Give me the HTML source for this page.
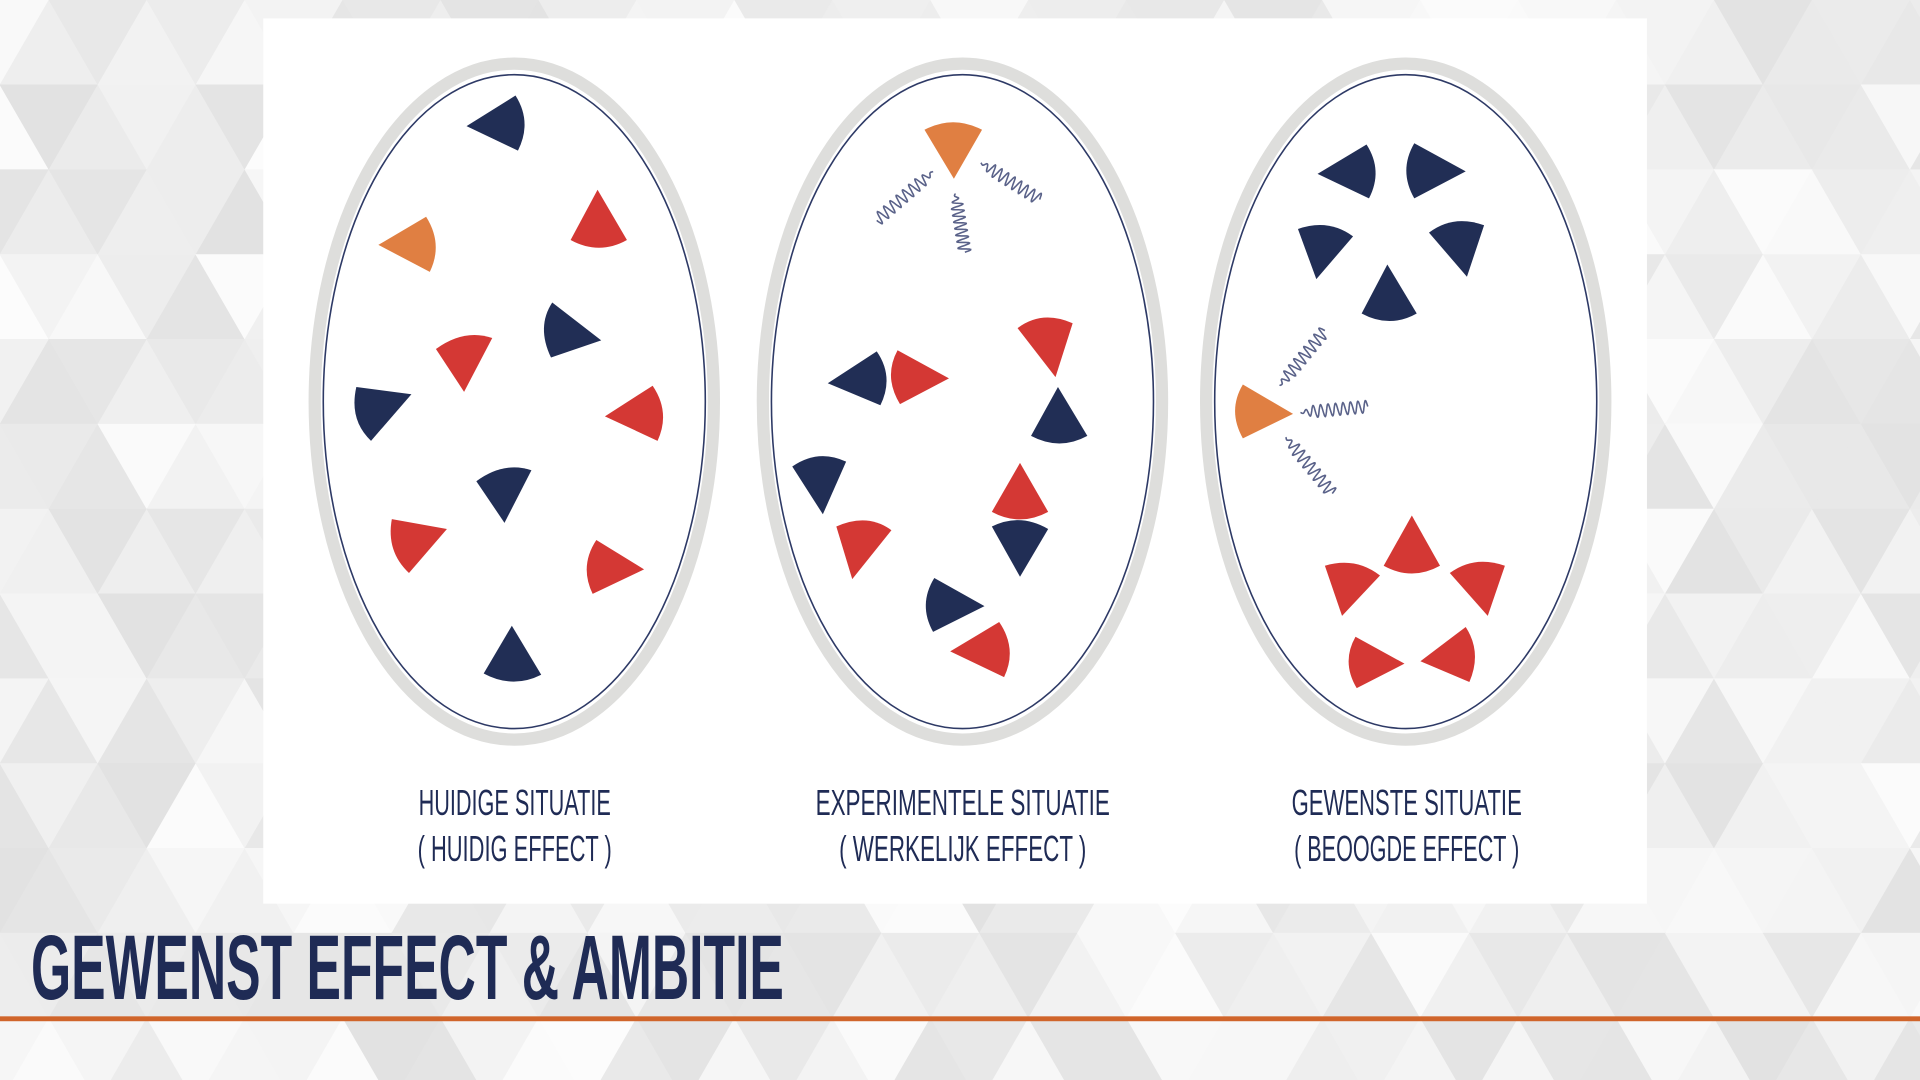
<!DOCTYPE html>
<html><head><meta charset="utf-8">
<style>
html,body{margin:0;padding:0;width:1920px;height:1080px;overflow:hidden;background:#ececec;}
#wrap{position:relative;width:1920px;height:1080px;overflow:hidden;}
#svg{position:absolute;left:0;top:0;display:block;}
.lbl{position:absolute;white-space:nowrap;font-family:"Liberation Sans Narrow","Liberation Sans",sans-serif;color:#1f2b55;font-size:36px;line-height:1;transform-origin:center center;}
#title{position:absolute;left:31px;top:922px;white-space:nowrap;font-family:"Liberation Sans Narrow","Liberation Sans",sans-serif;font-weight:bold;color:#1f2b55;font-size:92px;line-height:1;transform-origin:left top;}
</style></head><body>
<div id="wrap">
<svg id="svg" width="1920" height="1080" viewBox="0 0 1568 882" xmlns="http://www.w3.org/2000/svg">
<g id="bg"></g>
<rect x="215" y="15" width="1130" height="723" fill="#ffffff"/>
<g fill="#fff">
<ellipse cx="420" cy="328" rx="163" ry="276" stroke="#dededc" stroke-width="10"/>
<ellipse cx="420" cy="328" rx="156" ry="267" stroke="#2e3a66" stroke-width="1.3"/>
<ellipse cx="786" cy="328" rx="163" ry="276" stroke="#dededc" stroke-width="10"/>
<ellipse cx="786" cy="328" rx="156" ry="267" stroke="#2e3a66" stroke-width="1.3"/>
<ellipse cx="1148" cy="328" rx="163" ry="276" stroke="#dededc" stroke-width="10"/>
<ellipse cx="1148" cy="328" rx="156" ry="267" stroke="#2e3a66" stroke-width="1.3"/>
</g>
<g id="shapes"></g>
<g id="springs" fill="none" stroke="#5a6289" stroke-width="1.3"></g>
<rect x="0" y="830" width="1568" height="4" fill="#d0652b"/>
</svg>
<div class="lbl" data-cx="514" data-cy="803" data-w="192">HUIDIGE SITUATIE</div>
<div class="lbl" data-cx="514" data-cy="849" data-w="194">( HUIDIG EFFECT )</div>
<div class="lbl" data-cx="962" data-cy="803" data-w="294">EXPERIMENTELE SITUATIE</div>
<div class="lbl" data-cx="962" data-cy="849" data-w="247">( WERKELIJK EFFECT )</div>
<div class="lbl" data-cx="1406" data-cy="803" data-w="230">GEWENSTE SITUATIE</div>
<div class="lbl" data-cx="1406" data-cy="849" data-w="225">( BEOOGDE EFFECT )</div>
<div id="title">GEWENST EFFECT &amp; AMBITIE</div>
</div>
<script>
var NS="http://www.w3.org/2000/svg";
var bg=document.getElementById('bg');
var s=80,h=s*0.866;
var seed=7;function rnd(){seed=(seed*9301+49297)%233280;return seed/233280;}
for(var r=-1;r<14;r++){for(var c=-2;c<42;c++){
  var x0=c*s/2,y0=r*h,up=((r+c)%2==0);
  var pts=up?[[x0,y0+h],[x0+s/2,y0],[x0+s,y0+h]]:[[x0,y0],[x0+s,y0],[x0+s/2,y0+h]];
  var g=Math.round(226+rnd()*26);
  var p=document.createElementNS(NS,'polygon');
  p.setAttribute('points',pts.map(function(q){return q.join(',')}).join(' '));
  p.setAttribute('fill','rgb('+g+','+g+','+g+')');
  p.setAttribute('stroke','rgb('+g+','+g+','+g+')');p.setAttribute('stroke-width','0.5');
  bg.appendChild(p);
}}
var N='#212e55',R='#d43834',O='#e07f42';
var shapes=[
[N,[381,103],[421,78],[423,123]],
[O,[309,200],[348,177],[351,222]],
[R,[488,155],[466,196],[512,196]],
[N,[491,278],[451,247],[450,292]],
[R,[379,320],[356,285],[402,276]],
[N,[336,322],[291,316],[303,360]],
[R,[494,340],[533,315],[537,360]],
[N,[412,427],[389,393],[434,384]],
[R,[365,432],[320,424],[334,468]],
[R,[526,465],[487,441],[484,485]],
[N,[418,511],[395,550],[442,551]],
[O,[779,146],[755,106],[802,106]],
[N,[676,313],[716,287],[719,331]],
[R,[775,309],[733,286],[735,330]],
[R,[862,308],[831,268],[876,264]],
[N,[864,316],[842,356],[888,356]],
[N,[672,420],[647,381],[691,377]],
[R,[833,378],[810,418],[856,418]],
[R,[696,473],[683,430],[728,433]],
[N,[833,471],[810,430],[856,432]],
[N,[804,495],[763,472],[762,516]],
[R,[776,532],[816,508],[820,553]],
[N,[1076,142],[1116,118],[1118,162]],
[N,[1197,140],[1155,117],[1155,162]],
[N,[1075,228],[1060,187],[1105,193]],
[N,[1198,226],[1167,190],[1212,184]],
[N,[1133,216],[1112,256],[1157,256]],
[O,[1056,338],[1015,314],[1015,358]],
[R,[1153,421],[1130,462],[1176,462]],
[R,[1215,503],[1184,468],[1229,462]],
[R,[1096,503],[1082,462],[1127,470]],
[R,[1147,542],[1107,520],[1108,562]],
[R,[1160,540],[1197,512],[1200,557]]
];
var sg=document.getElementById('shapes');
shapes.forEach(function(d){
  var T=d[1],A=d[2],B=d[3];
  var M=[(A[0]+B[0])/2,(A[1]+B[1])/2];
  var C=[M[0]+(M[0]-T[0])*0.31,M[1]+(M[1]-T[1])*0.31];
  var p=document.createElementNS(NS,'path');
  p.setAttribute('d','M'+T+' L'+A+' Q'+C+' '+B+' Z');
  p.setAttribute('fill',d[0]);
  sg.appendChild(p);
});
var springs=[[[762,140],[716,180]],[[780,158],[788,206]],[[801,133],[849,163]],
[[1045,315],[1082,270]],[[1062,337],[1117,332]],[[1050,357],[1088,403]]];
var spg=document.getElementById('springs');
springs.forEach(function(sp){
  var P=sp[0],Q=sp[1],dx=Q[0]-P[0],dy=Q[1]-P[1],L=Math.hypot(dx,dy);
  var ux=dx/L,uy=dy/L,nx=-uy,ny=ux,pts=[];
  for(var i=0;i<=200;i++){var t=i/200;var a=Math.sin(t*Math.PI*2*9)*(t<0.2?t*5*5:5);
    pts.push((P[0]+dx*t+nx*a).toFixed(1)+','+(P[1]+dy*t+ny*a).toFixed(1));}
  var pl=document.createElementNS(NS,'polyline');pl.setAttribute('points',pts.join(' '));
  spg.appendChild(pl);
});
document.querySelectorAll('.lbl').forEach(function(e){
  var w=e.offsetWidth,hh=e.offsetHeight,tw=+e.dataset.w;
  e.style.left=(+e.dataset.cx - w/2)+'px';e.style.top=(+e.dataset.cy - hh/2)+'px';
  e.style.transform='scaleX('+(tw/w)+')';
});
var t=document.getElementById('title');
t.style.transform='scaleX('+(753/t.offsetWidth)+')';
</script>
</body></html>
